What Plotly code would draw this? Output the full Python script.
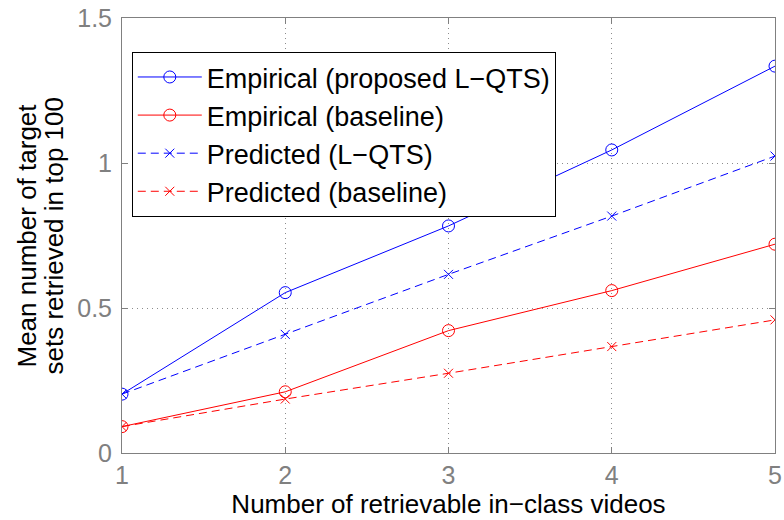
import plotly.graph_objects as go

# Number of retrievable in-class videos
n_videos = [1, 2, 3, 4, 5]

# Mean number of target sets retrieved in top 100
empirical_lqts = [0.203, 0.553, 0.783, 1.045, 1.334]
empirical_baseline = [0.091, 0.211, 0.422, 0.560, 0.720]
predicted_lqts = [0.203, 0.409, 0.616, 0.817, 1.024]
predicted_baseline = [0.091, 0.186, 0.275, 0.367, 0.459]

series_names = [
    "Empirical (proposed L\u2212QTS)",
    "Empirical (baseline)",
    "Predicted (L\u2212QTS)",
    "Predicted (baseline)",
]

x_ticks = [1, 2, 3, 4, 5]
y_ticks = [0, 0.5, 1, 1.5]
y_tick_text = ["0", "0.5", "1", "1.5"]

FONT = "Liberation Sans, Arial, Helvetica, sans-serif"
BLUE = "#0000ff"
RED = "#ff0000"
AXIS_GRAY = "#808080"
DASH = "8px,5px"

fig = go.Figure()

fig.add_trace(go.Scatter(
    x=n_videos, y=empirical_lqts, name=series_names[0], mode="lines+markers",
    line=dict(color=BLUE, width=1),
    marker=dict(symbol="circle-open", size=12, color=BLUE, line=dict(width=1, color=BLUE)),
))
fig.add_trace(go.Scatter(
    x=n_videos, y=empirical_baseline, name=series_names[1], mode="lines+markers",
    line=dict(color=RED, width=1),
    marker=dict(symbol="circle-open", size=12, color=RED, line=dict(width=1, color=RED)),
))
fig.add_trace(go.Scatter(
    x=n_videos, y=predicted_lqts, name=series_names[2], mode="lines+markers",
    line=dict(color=BLUE, width=1, dash=DASH),
    marker=dict(symbol="x-thin-open", size=9, color=BLUE, line=dict(width=1, color=BLUE)),
))
fig.add_trace(go.Scatter(
    x=n_videos, y=predicted_baseline, name=series_names[3], mode="lines+markers",
    line=dict(color=RED, width=1, dash=DASH),
    marker=dict(symbol="x-thin-open", size=9, color=RED, line=dict(width=1, color=RED)),
))

axis_common = dict(
    showline=True, linecolor=AXIS_GRAY, linewidth=1, mirror="allticks",
    ticks="inside", ticklen=6, tickcolor=AXIS_GRAY, tickwidth=1,
    showgrid=True, gridcolor="#8c8c8c", griddash="1px,4px", gridwidth=1,
    zeroline=False, automargin=False,
    tickfont=dict(family=FONT, size=25, color=AXIS_GRAY),
)

fig.update_xaxes(
    range=[1, 5], tickvals=x_ticks, ticktext=[str(v) for v in x_ticks],
    title=dict(text="Number of retrievable in\u2212class videos",
               font=dict(family=FONT, size=26, color="black"), standoff=2),
    ticklabelstandoff=0,
    **axis_common,
)
fig.update_yaxes(
    range=[0, 1.5], tickvals=y_ticks, ticktext=y_tick_text,
    ticklabelstandoff=4,
    **axis_common,
)

# Two-line y-axis title
for text, xpos in [("Mean number of target", 26), ("sets retrieved in top 100", 53)]:
    fig.add_annotation(
        text=text, textangle=-90, showarrow=False,
        xref="paper", yref="paper", x=(xpos - 122) / 653, y=0.5,
        xanchor="center", yanchor="middle",
        font=dict(family=FONT, size=26, color="black"),
    )

fig.update_layout(
    width=784, height=520,
    margin=dict(l=122, r=9, t=18, b=67),
    plot_bgcolor="white", paper_bgcolor="white",
    font=dict(family=FONT, size=26, color="black"),
    showlegend=True,
    legend=dict(
        x=0.015, y=0.922, xanchor="left", yanchor="top",
        bgcolor="white", bordercolor="black", borderwidth=1,
        font=dict(family=FONT, size=27, color="black"),
        itemwidth=64, tracegroupgap=0,
    ),
)

fig.write_html("out.html")
